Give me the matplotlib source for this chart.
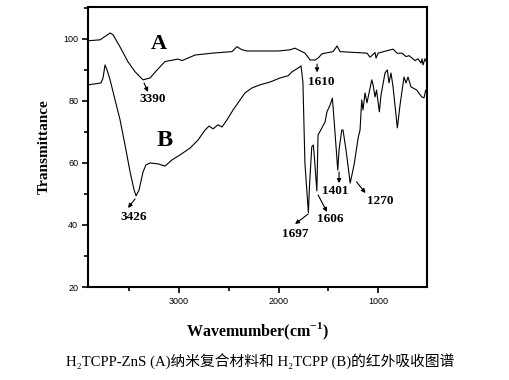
import matplotlib
matplotlib.use("Agg")
import matplotlib.pyplot as plt
from matplotlib.ticker import MultipleLocator

plt.rcParams["mathtext.fontset"] = "custom"
plt.rcParams["mathtext.bf"] = "Liberation Serif:bold"
plt.rcParams["mathtext.rm"] = "Liberation Serif"

# ---- data ----
wn_a = [3915, 3794, 3693, 3663, 3593, 3513, 3442, 3362, 3291, 3251, 3191, 3141, 3010,
        2970, 2839, 2668, 2468, 2418, 2368, 2317, 2000, 1884, 1834, 1784, 1734, 1683,
        1633, 1603, 1563, 1452, 1412, 1382, 1111, 1080, 1030, 1020, 1000, 910, 849,
        809, 759, 719, 688, 628, 598, 568, 558, 548, 528, 508]
tr_a = [99.4, 99.7, 101.9, 101.3, 97.4, 92.6, 89.4, 86.8, 87.4, 88.9, 91.0, 92.7, 93.5,
        93.0, 94.8, 95.4, 95.9, 97.5, 96.5, 96.1, 96.1, 96.5, 97.0, 96.2, 95.4, 93.2,
        93.2, 93.8, 95.2, 95.9, 97.7, 95.9, 95.4, 94.1, 95.6, 93.8, 95.4, 96.2, 96.7,
        95.4, 95.4, 94.3, 94.6, 93.0, 93.6, 92.2, 93.6, 91.6, 93.6, 92.2]

wn_b = [3915, 3844, 3784, 3764, 3744, 3724, 3693, 3643, 3593, 3543, 3492, 3452, 3432,
        3402, 3362, 3332, 3291, 3211, 3141, 3070, 2990, 2889, 2809, 2739, 2698, 2658,
        2608, 2568, 2518, 2457, 2387, 2337, 2266, 2186, 2085, 1985, 1905, 1864, 1804,
        1774, 1755, 1735, 1700, 1690, 1666, 1650, 1638, 1615, 1603, 1576, 1533, 1513,
        1482, 1459, 1442, 1405, 1392, 1365, 1352, 1322, 1280, 1241, 1198, 1181, 1164,
        1151, 1131, 1111, 1063, 1050, 1030, 1015, 987, 970, 930, 907, 890, 870, 849,
        806, 779, 739, 719, 699, 668, 611, 561, 538, 521, 508]
tr_b = [85.2, 85.5, 85.8, 87.4, 91.6, 90.0, 86.8, 80.3, 73.9, 65.8, 57.1, 51.3, 49.4,
        51.3, 57.1, 59.4, 60.0, 59.7, 59.0, 61.0, 62.6, 64.8, 67.4, 70.6, 71.9, 71.0,
        72.3, 71.6, 73.9, 77.1, 80.3, 82.6, 84.2, 85.2, 86.1, 87.4, 88.1, 89.4, 90.6,
        91.3, 86.0, 60.0, 43.9, 52.0, 65.2, 65.8, 61.0, 51.0, 69.0, 70.6, 73.2, 76.5,
        78.7, 80.9, 73.9, 57.7, 64.2, 70.6, 70.6, 64.2, 53.5, 59.4, 68.4, 70.6, 80.3,
        77.1, 82.6, 79.4, 86.8, 85.2, 81.3, 83.5, 76.5, 81.9, 89.0, 90.0, 85.8, 89.0,
        84.5, 71.3, 78.7, 87.7, 85.8, 87.7, 84.5, 83.5, 81.3, 81.0, 83.5, 82.9]

peak_labels = ["3390", "3426", "1610", "1697", "1606", "1401", "1270"]
x_ticks = [3000, 2000, 1000]
y_ticks = [20, 40, 60, 80, 100]

fig = plt.figure(figsize=(5.09, 3.80), dpi=100)
ax = fig.add_axes([0.1729, 0.2447, 0.6660, 0.7370])

ax.plot(wn_a, tr_a, color="black", lw=0.8)
ax.plot(wn_b, tr_b, color="black", lw=0.8)

ax.set_xlim(3915, 508)
ax.set_ylim(20, 110.3)
ax.set_xticks(x_ticks)
ax.set_yticks(y_ticks)
ax.xaxis.set_minor_locator(MultipleLocator(500))
ax.yaxis.set_minor_locator(MultipleLocator(10))
ax.tick_params(which="both", direction="out", top=False, right=False,
               width=1.2, labelsize=6.5, pad=3)
ax.tick_params(which="major", length=4)
ax.tick_params(which="minor", length=3)
for lab in ax.get_xticklabels() + ax.get_yticklabels():
    lab.set_family("Liberation Sans")
for s in ax.spines.values():
    s.set_linewidth(1.5)

serif = "Liberation Serif"
ax.set_ylabel("Transmittance", family=serif, weight="bold", fontsize=11, labelpad=9)
ax.set_xlabel("Wavemumber(cm$^{\\mathbf{-1}}$)", family=serif, weight="bold",
              fontsize=11.5, labelpad=11)

ax.text(3201, 98.5, "A", family=serif, weight="bold", fontsize=16, ha="center", va="center")
ax.text(3146, 67.4, "B", family=serif, weight="bold", fontsize=17.5, ha="center", va="center")

label_pos = [(3261, 80.5), (3457, 42.7), (1568, 86.1), (1834, 37.1),
             (1483, 41.9), (1432, 50.8), (980, 47.7)]
for txt, (x, y) in zip(peak_labels, label_pos):
    ax.text(x, y, txt, family=serif, weight="bold", fontsize=9.5, ha="center", va="center")

arrows = [((3352, 85.8), (3312, 82.9)), ((3442, 48.4), (3513, 45.5)),
          ((1613, 91.9), (1613, 89.2)), ((1704, 43.5), (1834, 40.3)),
          ((1603, 49.7), (1513, 44.2)), ((1392, 57.1), (1392, 53.5)),
          ((1216, 53.9), (1126, 50.3))]
for tail, head in arrows:
    ax.annotate("", xy=head, xytext=tail,
                arrowprops=dict(arrowstyle="-|>", lw=0.8, color="black",
                                mutation_scale=6, shrinkA=0, shrinkB=0))

fig.text(0.512, 0.047, "H\u2082TCPP-ZnS (A)纳米复合材料和 H\u2082TCPP (B)的红外吸收图谱",
         family=["Liberation Serif", "Noto Sans CJK SC", "DejaVu Sans"],
         fontsize=10.6, ha="center", va="center")

fig.savefig("out.png", dpi=100)
